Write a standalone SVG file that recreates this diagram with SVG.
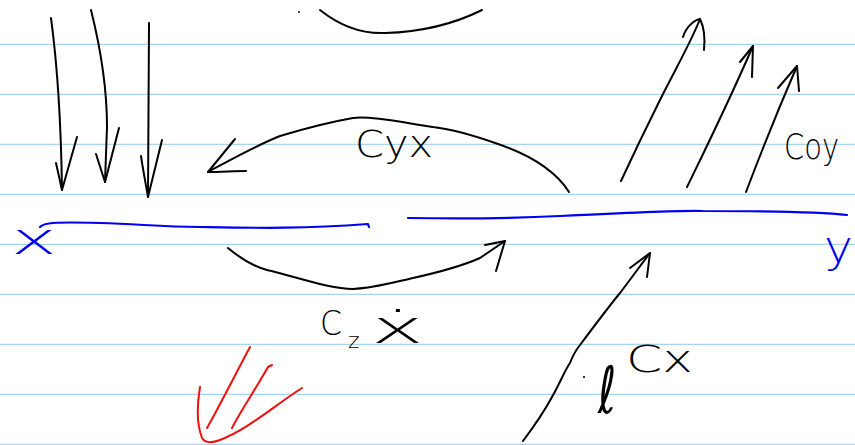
<svg xmlns="http://www.w3.org/2000/svg" width="855" height="445" viewBox="0 0 855 445">
<style>
.rule{stroke:#a9d4ec;stroke-width:1.2}
.ink{fill:none;stroke:#000;stroke-width:2;stroke-linecap:round;stroke-linejoin:round}
.blue{fill:none;stroke:#0000f0;stroke-width:2.2;stroke-linecap:round;stroke-linejoin:round}
.red{fill:none;stroke:#f01010;stroke-width:2;stroke-linecap:round;stroke-linejoin:round}
.lbl{font-family:"DejaVu Sans ExtraLight","DejaVu Sans","Liberation Sans",sans-serif;font-weight:200;fill:#000}
.blbl{font-family:"DejaVu Sans ExtraLight","DejaVu Sans","Liberation Sans",sans-serif;font-weight:200;fill:#0000f0}
.ell{font-family:"DejaVu Sans","Liberation Sans",sans-serif;fill:#000}
</style>
<rect width="855" height="445" fill="#fff"/>
<g id="paper">
<line class="rule" x1="0" y1="44.3" x2="855" y2="44.3"/>
<line class="rule" x1="0" y1="94.3" x2="855" y2="94.3"/>
<line class="rule" x1="0" y1="144.3" x2="855" y2="144.3"/>
<line class="rule" x1="0" y1="194.3" x2="855" y2="194.3"/>
<line class="rule" x1="0" y1="244.3" x2="855" y2="244.3"/>
<line class="rule" x1="0" y1="294.3" x2="855" y2="294.3"/>
<line class="rule" x1="0" y1="344.3" x2="855" y2="344.3"/>
<line class="rule" x1="0" y1="394.3" x2="855" y2="394.3"/>
<line class="rule" x1="0" y1="444.3" x2="855" y2="444.3"/>
</g>
<g id="node-x">
<path class="blue" d="M40,227 C44,222 60,222 100,223 C140,224 160,227 200,227 C260,228 300,229 368,224 L369,227"/>
<text class="blbl" x="11" y="254" font-size="44" textLength="46" lengthAdjust="spacingAndGlyphs">x</text>
</g>
<g id="node-y">
<path class="blue" d="M408,218 C470,219 520,218 560,216 C620,213 680,210 703,211 C760,211 820,212 847,215"/>
<text class="blbl" x="824" y="262" font-size="44" textLength="29" lengthAdjust="spacingAndGlyphs">y</text>
</g>
<g id="connectors">
<path class="ink" d="M51,18 C58,70 61,120 62,190"/>
<path class="ink" d="M56,163 L62,190 L77,137"/>
<path class="ink" d="M91,10 C101,50 107,90 107,127 L105,182"/>
<path class="ink" d="M96,154 L105,182 L119,128"/>
<path class="ink" d="M149,23 L148,197"/>
<path class="ink" d="M141,156 C143,170 146,185 148,197 L162,140"/>
<path class="ink" d="M320,10 C340,26 362,34 385,33 C420,32 452,25 482,10"/>
<circle cx="299" cy="12" r="0.9" fill="#000"/>
<path class="ink" d="M569,192 C555,170 530,155 498,144 C470,134 450,129 433,127 C400,122 370,116 353,118 C330,122 310,127 280,136 C255,146 230,160 208,172"/>
<path class="ink" d="M235,139 L208,172 C220,172 235,171 246,171"/>
<path class="ink" d="M228,248 C240,258 252,266 267,270 C300,278 330,289 353,289 C375,288 395,282 413,278 C440,272 462,266 480,258 L505,241"/>
<path class="ink" d="M485,245 L505,241 L496,271"/>
<path class="ink" d="M621,181 C640,140 650,120 660,100 C675,70 692,40 700,19"/>
<path class="ink" d="M683,37 C686,27 694,20 700,19 C704,27 705,40 704,50"/>
<path class="ink" d="M687,187 C705,150 725,110 753,46"/>
<path class="ink" d="M740,62 L753,46 L752,77"/>
<path class="ink" d="M746,192 C760,155 778,110 797,66"/>
<path class="ink" d="M778,88 L797,66 L799,91"/>
<path class="ink" d="M523,441 C535,425 545,410 552,397 C560,383 565,370 570,363 C573,355 576,350 580,345 C595,325 610,305 620,293 C630,280 640,266 650,253"/>
<path class="ink" d="M630,268 L650,253 L647,277"/>
<circle cx="584" cy="377" r="1.1" fill="#000"/>
<path class="red" d="M250,347 C235,375 220,405 207,428"/>
<path class="red" d="M272,365 L268,367 C255,390 240,412 232,428"/>
<path class="red" d="M200,387 C197,405 197,425 202,438 C205,443 212,443 220,440 C250,428 275,405 302,388"/>
</g>
<g id="labels">
<text class="lbl" x="355" y="157" font-size="38" textLength="78" lengthAdjust="spacingAndGlyphs">Cyx</text>
<text class="lbl" x="784" y="159" font-size="36" textLength="55" lengthAdjust="spacingAndGlyphs">Coy</text>
<text class="lbl" x="320" y="335" font-size="34" textLength="22" lengthAdjust="spacingAndGlyphs">C</text>
<text class="lbl" x="348" y="348" font-size="22">z</text>
<text class="lbl" x="371" y="343" font-size="46" textLength="53" lengthAdjust="spacingAndGlyphs">x&#x307;</text>
<text class="ell" transform="translate(598,413) scale(1.05,1.55)" x="0" y="0" font-size="42">ℓ</text>
<text class="lbl" x="626" y="372" font-size="38" textLength="67" lengthAdjust="spacingAndGlyphs">Cx</text>
</g>
</svg>
